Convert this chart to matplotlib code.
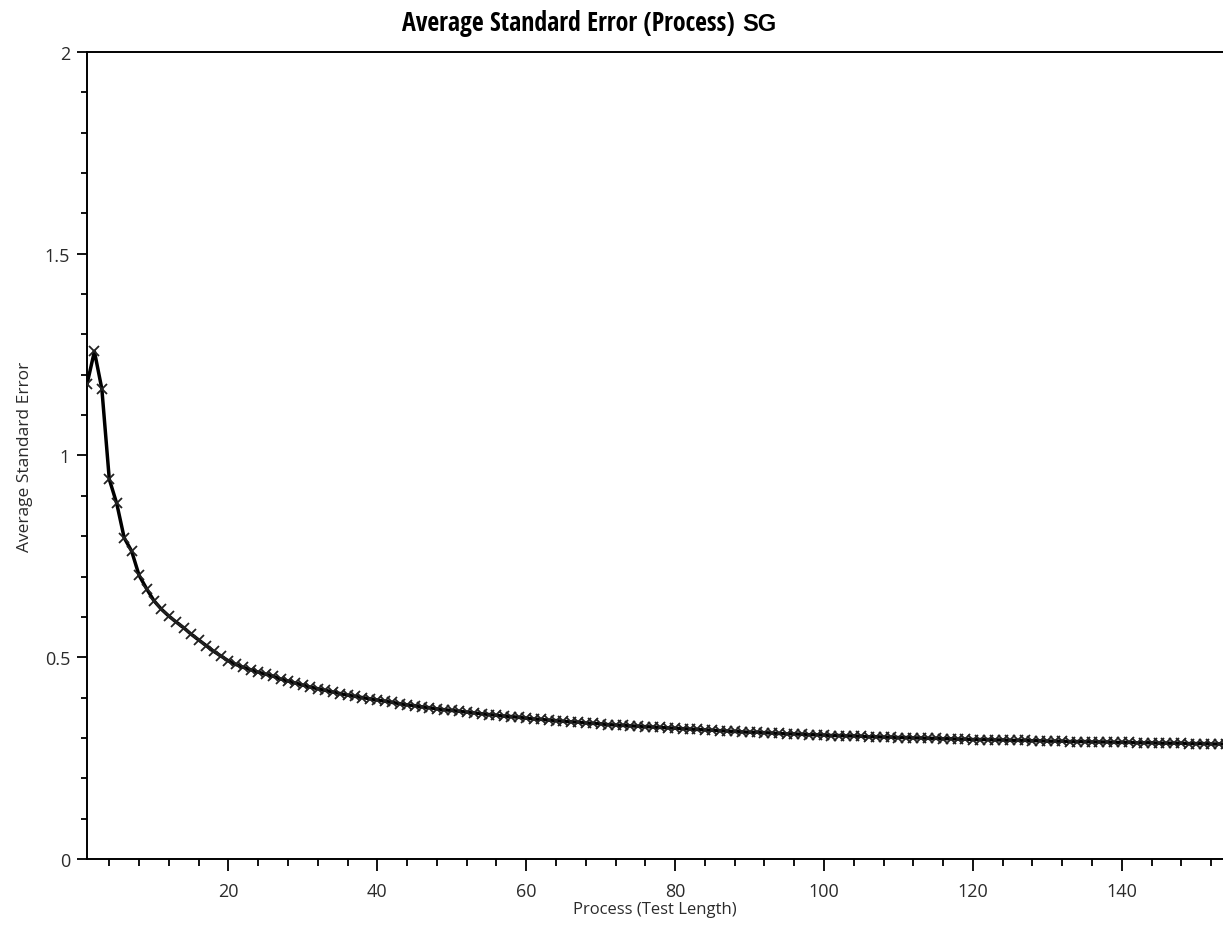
import matplotlib
matplotlib.use('Agg')
import matplotlib.pyplot as plt
from matplotlib.ticker import MultipleLocator, FuncFormatter

# Test length (x) and average standard error values
test_length = list(range(1, 156))
avg_std_error = [
    1.176, 1.258, 1.165, 0.941, 0.881, 0.796, 0.763, 0.703, 0.670, 0.640,
    0.619, 0.602, 0.587, 0.573, 0.557, 0.543, 0.529, 0.515, 0.503, 0.491,
    0.482, 0.475, 0.469, 0.463, 0.458, 0.453, 0.446, 0.441, 0.436, 0.431,
    0.426, 0.422, 0.418, 0.414, 0.410, 0.406, 0.403, 0.400, 0.397, 0.394,
    0.391, 0.388, 0.385, 0.382, 0.380, 0.377, 0.375, 0.372, 0.370, 0.368,
    0.366, 0.364, 0.362, 0.360, 0.358, 0.356, 0.354, 0.353, 0.351, 0.349,
    0.347, 0.346, 0.344, 0.343, 0.341, 0.340, 0.339, 0.337, 0.336, 0.335,
    0.333, 0.332, 0.331, 0.330, 0.329, 0.328, 0.327, 0.326, 0.325, 0.324,
    0.323, 0.322, 0.321, 0.320, 0.319, 0.318, 0.317, 0.316, 0.315, 0.314,
    0.314, 0.313, 0.312, 0.311, 0.310, 0.310, 0.309, 0.308, 0.308, 0.307,
    0.306, 0.306, 0.305, 0.305, 0.304, 0.303, 0.303, 0.302, 0.302, 0.301,
    0.301, 0.300, 0.300, 0.299, 0.299, 0.298, 0.298, 0.297, 0.297, 0.296,
    0.296, 0.296, 0.295, 0.295, 0.294, 0.294, 0.294, 0.293, 0.293, 0.292,
    0.292, 0.292, 0.291, 0.291, 0.291, 0.290, 0.290, 0.290, 0.289, 0.289,
    0.289, 0.288, 0.288, 0.288, 0.287, 0.287, 0.287, 0.287, 0.286, 0.286,
    0.286, 0.285, 0.285, 0.285, 0.285,
]

title_main = 'Average Standard Error (Process)'
title_tag = 'SG'
x_label = 'Process (Test Length)'
y_label = 'Average Standard Error'

plt.rcParams['font.family'] = ['Open Sans', 'DejaVu Sans']
text_col = '#2b2b2b'

fig = plt.figure(figsize=(12.23, 9.28), dpi=100)
ax = fig.add_axes([0.0711, 0.0733, 0.9289, 0.8696])

ax.plot(test_length, avg_std_error, color='black', linewidth=2.5,
        marker='x', markersize=7, markeredgewidth=1.3,
        markeredgecolor='#222222', zorder=3)

ax.set_xlim(1, 153.6)
ax.set_ylim(0, 2)
ax.xaxis.set_major_locator(MultipleLocator(20))
ax.xaxis.set_minor_locator(MultipleLocator(4))
ax.yaxis.set_major_locator(MultipleLocator(0.5))
ax.yaxis.set_minor_locator(MultipleLocator(0.1))
ax.yaxis.set_major_formatter(FuncFormatter(lambda v, p: '%g' % v))

ax.tick_params(which='both', width=1.3, color='black',
               labelsize=13, labelcolor=text_col)
ax.tick_params(axis='x', which='major', length=8.6, pad=8.2)
ax.tick_params(axis='x', which='minor', length=4.8)
ax.tick_params(axis='y', which='major', length=7.2, pad=5)
ax.tick_params(axis='y', which='minor', length=4.3)

ax.spines['right'].set_visible(False)
for s in ['left', 'bottom', 'top']:
    ax.spines[s].set_linewidth(1.4)

ax.set_xlabel(x_label, fontsize=12, color=text_col)
ax.set_ylabel(y_label, fontsize=12.5, color=text_col)
ax.xaxis.set_label_coords(0.5, -0.052)
ax.yaxis.set_label_coords(-0.0475, 0.5)

title_font = ['Open Sans Condensed', 'Liberation Sans Narrow',
              'Roboto Condensed', 'Roboto', 'DejaVu Sans']
fig.text(735 / 1223, 1 - 31 / 928, title_main, ha='right', va='baseline',
         fontsize=18.6, fontweight='bold', color='black', family=title_font)
fig.text(742 / 1223, 1 - 31 / 928, title_tag, ha='left', va='baseline',
         fontsize=17, fontweight='bold', color='black',
         family=['Liberation Sans', 'DejaVu Sans'])

fig.savefig('out.png', dpi=100)
